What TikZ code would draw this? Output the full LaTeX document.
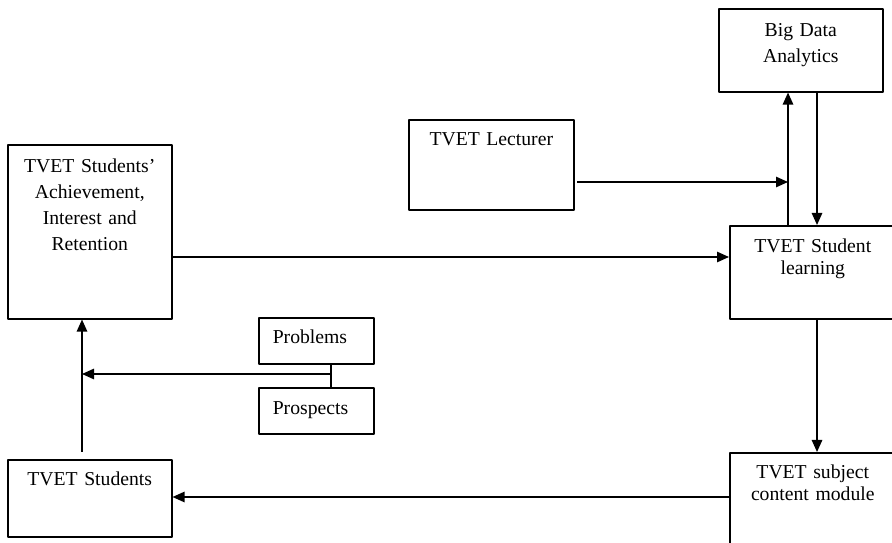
\documentclass[tikz,border=0pt]{standalone}
\usepackage{fontspec}
\setmainfont{Liberation Serif}
\usetikzlibrary{arrows.meta}
\newlength{\pxl}
\setlength{\pxl}{0.025cm}
\begin{document}
\begin{tikzpicture}[x=0.025cm,y=-0.025cm,line join=round,line width=1.1pt,>={Triangle[length=0.3cm,width=0.26cm]}]
    \tikzset{every node/.style={font=\fontsize{14}{18}\selectfont}}
    \tikzset{box/.style={draw,anchor=north west,inner sep=0pt,align=center}}
    \useasboundingbox (0,0) rectangle (892,543);
    \node[box,text width=164\pxl,text height=28\pxl,text depth=55\pxl] (bda) at (718,8) {Big Data\\Analytics};
    \node[box,text width=165\pxl,text height=26\pxl,text depth=64\pxl] (lect) at (408,119) {TVET Lecturer};
    \node[box,text width=164\pxl,text height=28\pxl,text depth=146\pxl,font=\fontsize{14}{18.5}\selectfont] (ach) at (7,144) {TVET Students'\\Achievement,\\Interest and\\Retention};
    \node[box,text width=166\pxl,text height=27\pxl,text depth=66\pxl,font=\fontsize{14}{15.6}\selectfont] (learn) at (729,225) {TVET Student\\learning};
    \node[box,align=left,inner xsep=14\pxl,text width=87\pxl,text height=26\pxl,text depth=20\pxl] (prob) at (258,317) {Problems};
    \node[box,align=left,inner xsep=14\pxl,text width=87\pxl,text height=27\pxl,text depth=19\pxl] (pros) at (258,387) {Prospects};
    \node[box,text width=164\pxl,text height=26\pxl,text depth=51\pxl] (stu) at (7,459) {TVET Students};
    \node[box,text width=166\pxl,text height=26\pxl,text depth=74\pxl,font=\fontsize{14}{15.6}\selectfont] (subj) at (729,452) {TVET subject\\content module};
    \coordinate (joinup) at (788,182);
    \coordinate (pp) at (331,374);
    \coordinate (leftup) at (82,374);
    \draw[->] (ach.east |- 0,257) -- (learn.west |- 0,257);
    \draw[->,shorten <=2pt] (lect.east |- joinup) -- (joinup);
    \draw[->] (learn.north -| joinup) -- (bda.south -| joinup);
    \draw[->] (bda.south -| 817,0) -- (learn.north -| 817,0);
    \draw[->] (learn.south -| 817,0) -- (subj.north -| 817,0);
    \draw[->] (subj.west |- 0,497) -- (stu.east |- 0,497);
    \draw[->,shorten <=5pt] (stu.north -| leftup) -- (ach.south -| leftup);
    \draw (prob.south -| pp) -- (pros.north -| pp);
    \draw[->] (pp) -- (leftup);
\end{tikzpicture}
\end{document}
